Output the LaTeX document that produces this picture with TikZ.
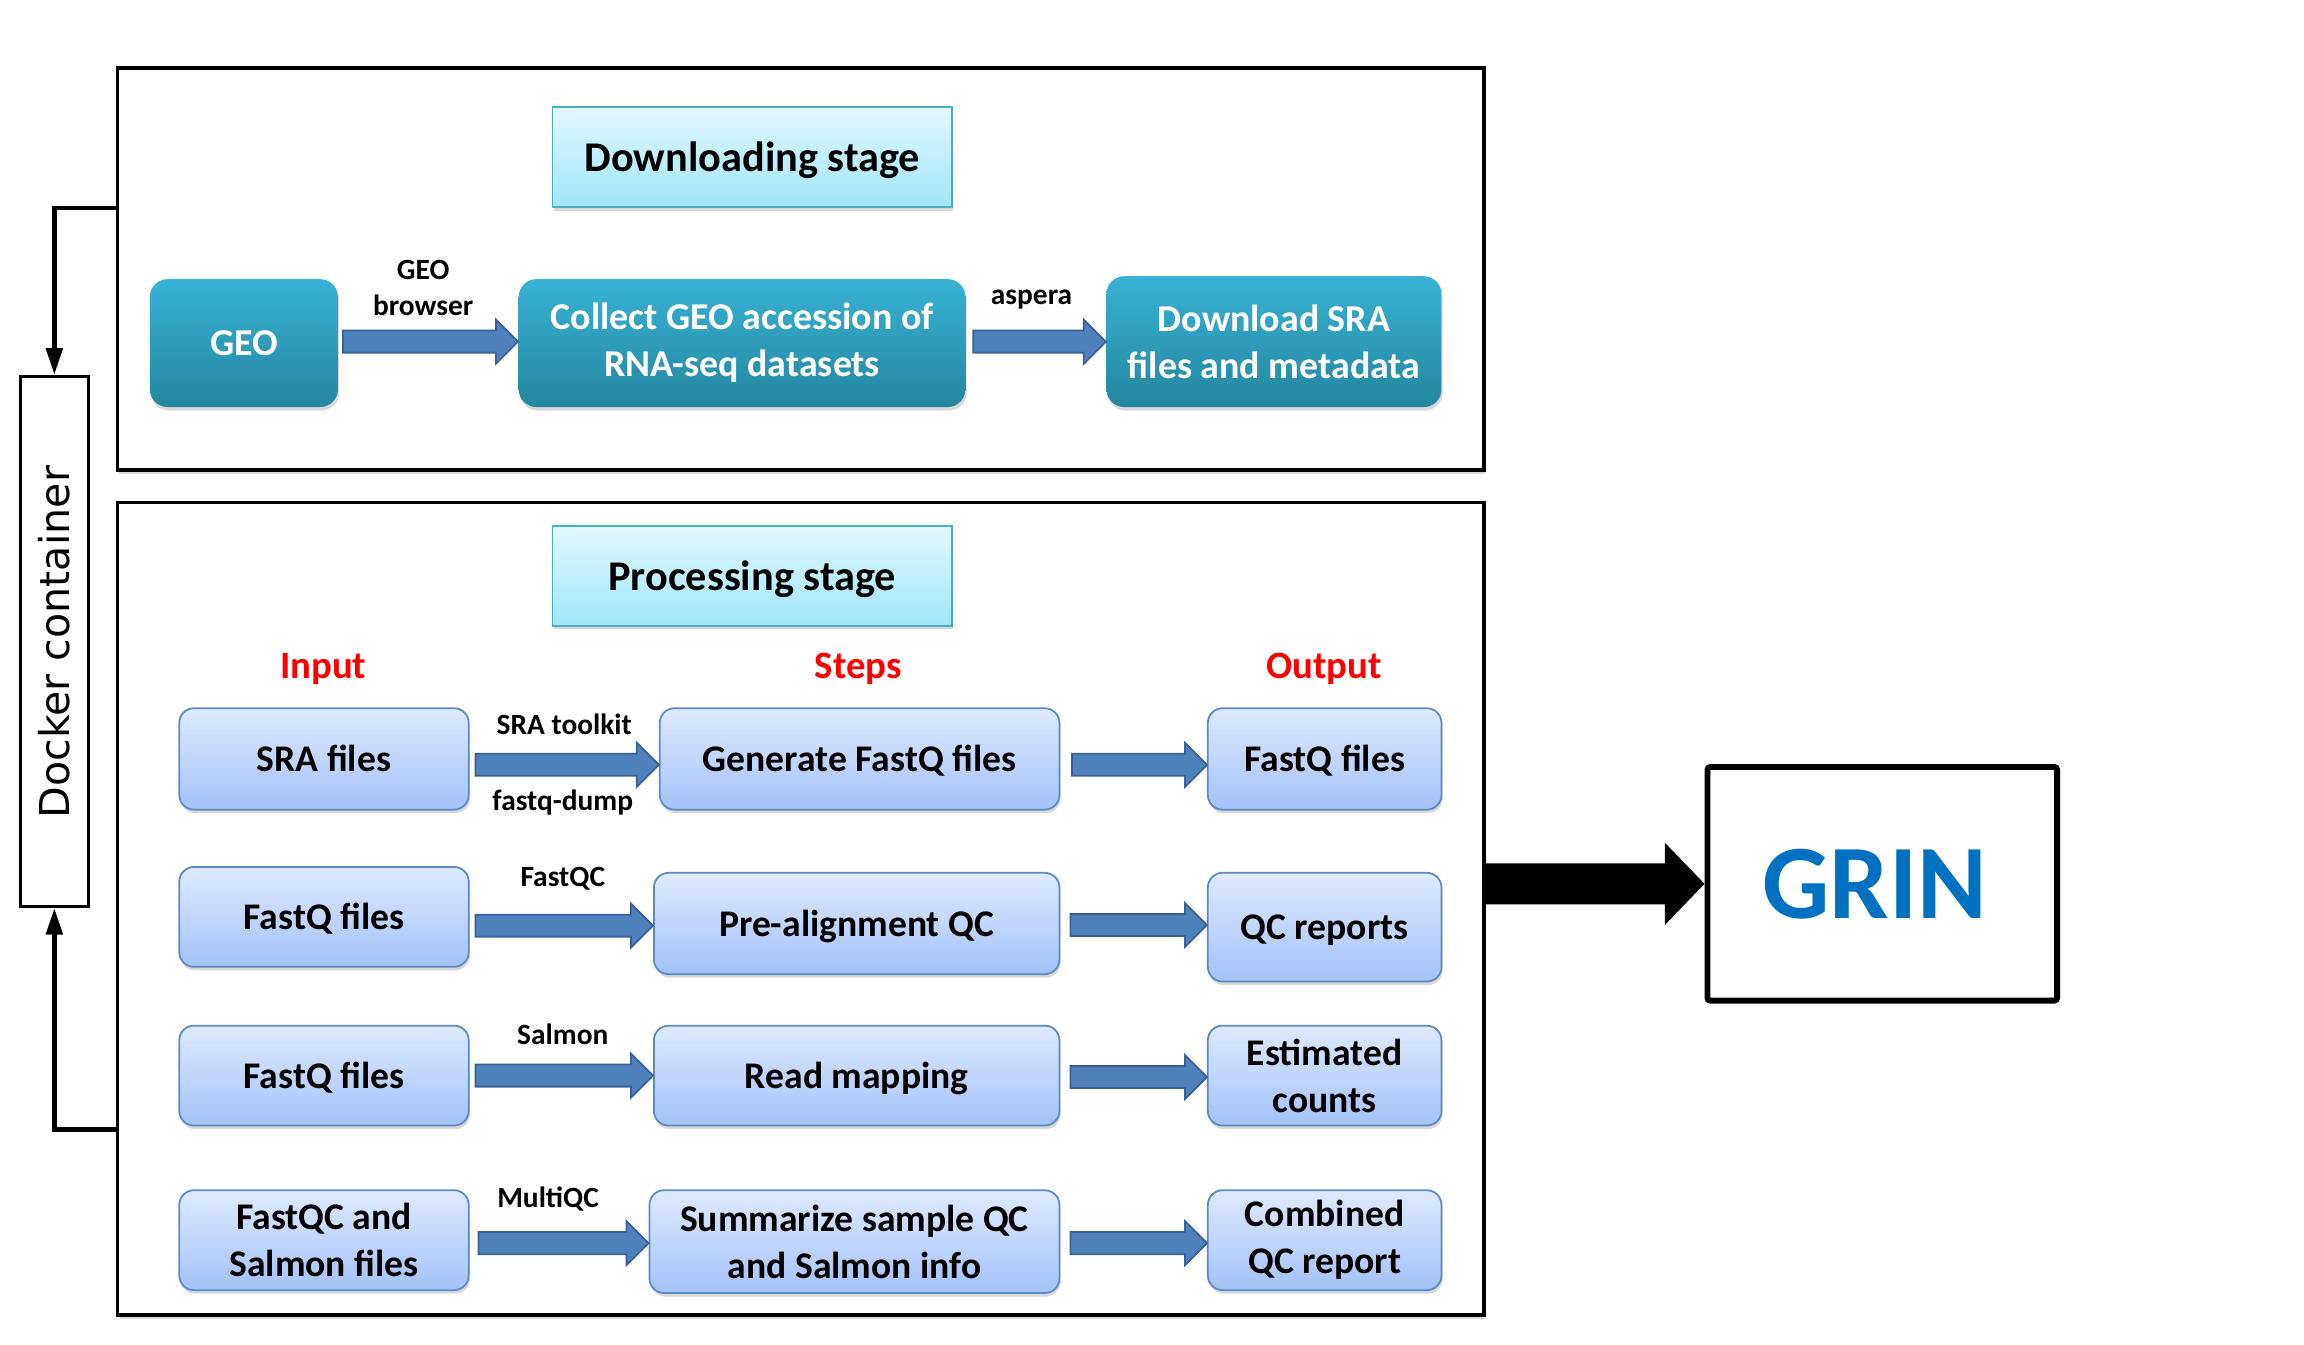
\documentclass[tikz,border=0pt]{standalone}
\usepackage{fontspec}
\setmainfont{Carlito}
\newfontfamily\dockerfont{DejaVu Sans}
\usetikzlibrary{calc,shadows,arrows.meta}
\definecolor{tealT}{HTML}{38B2D6}
\definecolor{tealB}{HTML}{24869E}
\definecolor{lbT}{HTML}{DEEAFE}
\definecolor{lbB}{HTML}{A3C2F8}
\definecolor{lbBorder}{HTML}{5A8AC8}
\definecolor{cyT}{HTML}{E2F8FE}
\definecolor{cyB}{HTML}{9FE6FA}
\definecolor{cyBorder}{HTML}{4BACC6}
\definecolor{arrFill}{HTML}{4F81BD}
\definecolor{arrDraw}{HTML}{3A6098}
\definecolor{grinBlue}{HTML}{0070C0}
\definecolor{hdrRed}{HTML}{FF0000}

\newcommand\blockar[4][0]{%
  \draw[blockarrow] let \p1=($(#2.east)+(#4,#1)$), \p2=(#3.west) in
  (\x1,\y1+3.75pt) -- (\x2-7.5pt,\y1+3.75pt) -- (\x2-7.5pt,\y1+7.5pt) -- (\x2,\y1)
  -- (\x2-7.5pt,\y1-7.5pt) -- (\x2-7.5pt,\y1-3.75pt) -- (\x1,\y1-3.75pt) -- cycle;}

\tikzset{
  sz/.style 2 args={minimum width=#1*0.5pt, minimum height=#2*0.5pt, inner sep=0pt},
  frame/.style={draw=black, line width=1.3pt, fill=white,
    drop shadow={shadow xshift=0.4pt, shadow yshift=-1.2pt, opacity=0.3}},
  stagebox/.style={draw=cyBorder, line width=0.6pt, top color=cyT, bottom color=cyB,
    font=\bfseries\fontsize{14.4}{17}\selectfont, text height=13pt, text depth=3pt,
    drop shadow={shadow xshift=0.4pt, shadow yshift=-1.2pt, opacity=0.3}},
  tealbox/.style={rounded corners=6pt, top color=tealT, bottom color=tealB, draw=none,
    text=white, align=center, font=\bfseries\fontsize{12.9}{16}\selectfont,
    drop shadow={shadow xshift=0.4pt, shadow yshift=-1.2pt, opacity=0.3}},
  lbox/.style={rounded corners=5pt, top color=lbT, bottom color=lbB, draw=lbBorder,
    line width=0.6pt, align=center, font=\bfseries\fontsize{12.8}{16}\selectfont,
    drop shadow={shadow xshift=0.4pt, shadow yshift=-1.2pt, opacity=0.3}},
  oneline/.style={text height=11.2pt, text depth=2.6pt},
  lbl/.style={font=\bfseries\fontsize{10}{12.5}\selectfont, align=center, inner sep=0pt},
  hdr/.style={font=\bfseries\fontsize{13.2}{16}\selectfont, text=hdrRed, inner sep=0pt},
  blockarrow/.style={fill=arrFill, draw=arrDraw, line width=0.6pt},
  conn/.style={draw=black, line width=1.6pt, -{Triangle[length=9pt,width=5.5pt]}},
}

\begin{document}
\begin{tikzpicture}[x=0.5pt,y=-0.5pt]
\useasboundingbox (0,0) rectangle (1568,915);

% outer frames
\node[frame, sz={930}{274}] (dl) at (545,183) {};
\node[frame, sz={930}{553}] (proc) at (545,618.5) {};

% stage titles
\node[stagebox, sz={272}{68}] (dlstage) at (512,107) {Downloading stage};
\node[stagebox, sz={272}{68}] (prstage) at (512,392) {Processing stage};

% downloading row
\node[tealbox, oneline, sz={128}{87}] (geo) at (166,233.5) {GEO};
\node[tealbox, sz={304}{87}] (collect) at (505,233.5) {Collect GEO accession of\\RNA-seq datasets};
\node[tealbox, sz={228}{89}] (dsra) at (867,232.5) {Download SRA\\files and metadata};
\node[lbl] (lgeo) at (288,196) {GEO\\browser};
\node[lbl] (lasp) at (702,204) {aspera};
\blockar[-1]{geo}{collect}{3}
\blockar[-1]{collect}{dsra}{5}

% headers
\node[hdr] (hin) at (220,455) {Input};
\node[hdr] (hst) at (584,455) {Steps};
\node[hdr] (hout) at (901,455) {Output};

% row 1
\node[lbox, oneline, sz={197}{69}] (in1) at (220.5,516.5) {SRA files};
\node[lbox, oneline, sz={272}{69}] (st1) at (585,516.5) {Generate FastQ files};
\node[lbox, oneline, sz={159}{69}] (out1) at (901.5,516.5) {FastQ files};
\node[lbl] (l1a) at (384,493) {SRA toolkit};
\node[lbl] (l1b) at (383,546) {fastq-dump};
\blockar[4]{in1}{st1}{4}
\blockar[4]{st1}{out1}{8}

% row 2
\node[lbox, oneline, sz={197}{68}] (in2) at (220.5,624) {FastQ files};
\node[lbox, oneline, sz={276}{69}] (st2) at (583,628.5) {Pre-alignment QC};
\node[lbox, oneline, sz={159}{74}] (out2) at (901.5,631) {QC reports};
\node[lbl] (l2) at (383,598) {FastQC};
\blockar[6]{in2}{st2}{4}
\blockar[1]{st2}{out2}{7}

% row 3
\node[lbox, oneline, sz={197}{68}] (in3) at (220.5,732) {FastQ files};
\node[lbox, oneline, sz={276}{68}] (st3) at (583,732) {Read mapping};
\node[lbox, sz={159}{68}] (out3) at (901.5,732) {Estimated\\counts};
\node[lbl] (l3) at (383,704) {Salmon};
\blockar[0]{in3}{st3}{4}
\blockar[1]{st3}{out3}{7}

% row 4
\node[lbox, sz={197}{68}] (in4) at (220.5,844) {FastQC and\\Salmon files};
\node[lbox, sz={279}{70}] (st4) at (581.5,845) {Summarize sample QC\\and Salmon info};
\node[lbox, sz={159}{68}] (out4) at (901.5,844) {Combined\\QC report};
\node[lbl] (l4) at (373,816) {MultiQC};
\blockar[2]{in4}{st4}{6}
\blockar[1]{st4}{out4}{7}

% docker container
\node[draw=black, line width=1pt, fill=white, sz={46}{361}] (docker) at (37,436.5) {};
\node[rotate=90, font=\dockerfont\fontsize{14}{16}\selectfont, inner sep=0pt] (dockertxt) at (37,437) {Docker container};
\coordinate (dlc) at ($(dl.north west)!0.35!(dl.south west)$);
\coordinate (prc) at ($(proc.north west)!0.77!(proc.south west)$);
\draw[conn] (dlc) -| (docker.north);
\draw[conn] (prc) -| (docker.south);

% GRIN
\node[draw=black, line width=2pt, rounded corners=1pt, sz={238}{159},
  font=\bfseries\fontsize{36}{40}\selectfont, text=grinBlue] (grin) at (1281,601.5) {GRIN\hspace*{5pt}};
\fill[black] let \p1=(proc.east |- grin.west), \p2=(grin.west) in
  (\x1,\y1+7pt) -- (\x2-13.5pt,\y1+7pt) -- (\x2-13.5pt,\y1+14pt) -- (\x2,\y1)
  -- (\x2-13.5pt,\y1-14pt) -- (\x2-13.5pt,\y1-7pt) -- (\x1,\y1-7pt) -- cycle;
\end{tikzpicture}
\end{document}
